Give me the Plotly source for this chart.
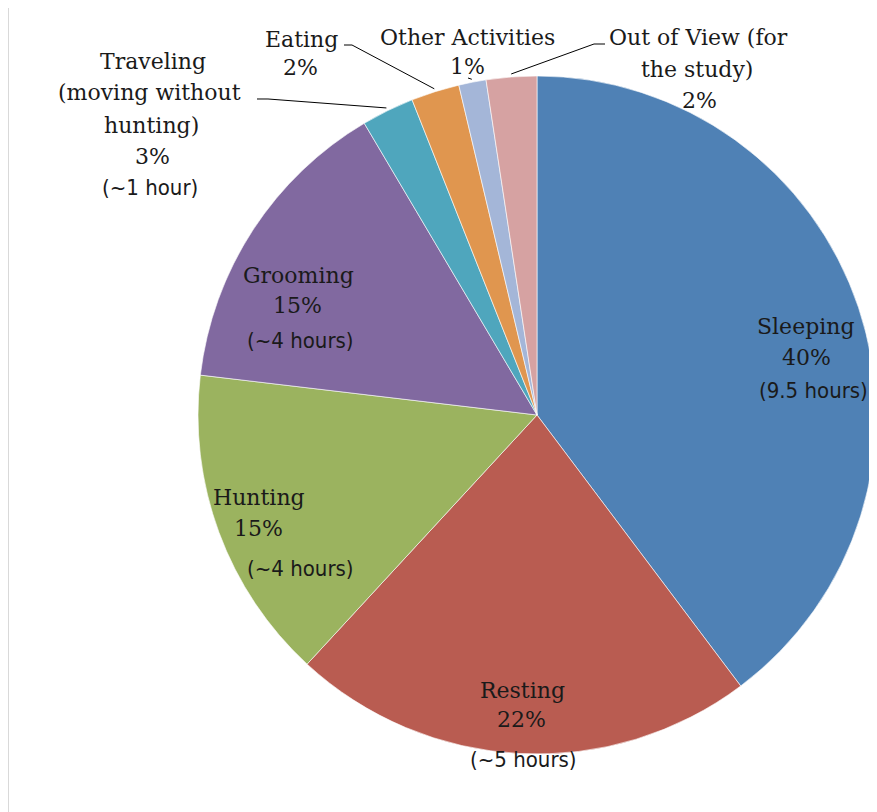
import math
import plotly.graph_objects as go

# ---------------- data ----------------
activities = [
    "Sleeping", "Resting", "Hunting", "Grooming",
    "Traveling (moving without hunting)", "Eating",
    "Other Activities", "Out of View (for the study)",
]
shares = [39.7, 22.1, 15.0, 14.6, 2.5, 2.3, 1.3, 2.4]
pct_labels = ["40%", "22%", "15%", "15%", "3%", "2%", "1%", "2%"]
name_lines = [
    ["Sleeping"], ["Resting"], ["Hunting"], ["Grooming"],
    ["Traveling", "(moving without", "hunting)"], ["Eating"],
    ["Other Activities"], ["Out of View (for", "the study)"],
]
hours_labels = ["(9.5 hours)", "(~5 hours)", "(~4 hours)", "(~4 hours)",
                "(~1 hour)", "", "", ""]
colors = ["#4F81B5", "#B95C51", "#9BB35F", "#8169A0",
          "#4FA6BD", "#E0964F", "#A4B6D8", "#D6A2A2"]

# ---------------- layout constants (window pixels) ----------------
OFF = 8                      # page body margin
W, H = 877 - OFF, 812 - OFF  # figure size
CX, CY, R = 537, 415, 339

def px(x):
    return (x - OFF) / W

def py(y):
    return 1 - (y - OFF) / H

# label line positions (pixel centres) for each slice: serif lines, then hours line
serif_pos = [
    [(806, 327), (806, 358)],
    [(522, 690), (521, 719)],
    [(259, 498), (258, 528)],
    [(298, 275), (297, 306)],
    [(153, 62), (149, 93), (151, 125), (152, 157)],
    [(301, 39), (300, 68)],
    [(467, 38), (467, 67)],
    [(698, 38), (697, 69), (699, 100)],
]
hours_pos = [(813, 390), (523, 759), (300, 568), (300, 340), (150, 188), None, None, None]

# leader line start points (pixel) for the small outside labels
leader_starts = {
    4: [(257, 99), (268, 99)],
    5: [(344, 45), (352, 45)],
    6: [(468, 78)],
    7: [(605, 44), (594, 44)],
}

SERIF = "DejaVu Serif"
NARROW = "DejaVu Sans Condensed, Liberation Sans Narrow, sans-serif"
TXT = "#1a1a1a"

fig = go.Figure(go.Pie(
    labels=activities,
    values=shares,
    sort=False,
    direction="clockwise",
    rotation=0,
    marker=dict(colors=colors, line=dict(color="rgba(255,255,255,0.6)", width=1)),
    textinfo="none",
    hoverinfo="label+percent",
    showlegend=False,
    domain=dict(x=[px(CX - R), min(1.0, px(CX + R))], y=[py(CY + R), py(CY - R)]),
))

annotations = []
for i in range(len(activities)):
    lines = name_lines[i] + [pct_labels[i]]
    for text, (x, y) in zip(lines, serif_pos[i]):
        annotations.append(dict(
            x=px(x), y=py(y), xref="paper", yref="paper", text=text,
            showarrow=False, xanchor="center", yanchor="middle",
            font=dict(family=SERIF, size=22, color=TXT),
        ))
    if hours_labels[i] and hours_pos[i]:
        x, y = hours_pos[i]
        annotations.append(dict(
            x=px(x), y=py(y), xref="paper", yref="paper", text=hours_labels[i],
            showarrow=False, xanchor="center", yanchor="middle",
            font=dict(family=NARROW, size=22, color=TXT),
        ))

# leader lines: end at pie edge at the slice's mid angle (computed from data)
total = sum(shares)
cum = 0.0
mids = []
for v in shares:
    mids.append((cum + v / 2) / total * 360.0)
    cum += v

shapes = []
for i, pts in leader_starts.items():
    th = math.radians(mids[i])
    ex = CX + (R + 3) * math.sin(th)
    ey = CY - (R + 3) * math.cos(th)
    allpts = pts + [(ex, ey)]
    path = "M " + " L ".join(f"{px(x):.5f},{py(y):.5f}" for x, y in allpts)
    shapes.append(dict(type="path", path=path, xref="paper", yref="paper",
                       line=dict(color="#000000", width=1)))

# thin frame line on the left edge
shapes.append(dict(type="line", xref="paper", yref="paper",
                   x0=px(8.5), x1=px(8.5), y0=py(7), y1=0,
                   line=dict(color="#d9d9d9", width=1)))

fig.update_layout(
    width=W, height=H,
    margin=dict(l=0, r=0, t=0, b=0),
    paper_bgcolor="white",
    plot_bgcolor="white",
    annotations=annotations,
    shapes=shapes,
)

fig.write_html("out.html")
